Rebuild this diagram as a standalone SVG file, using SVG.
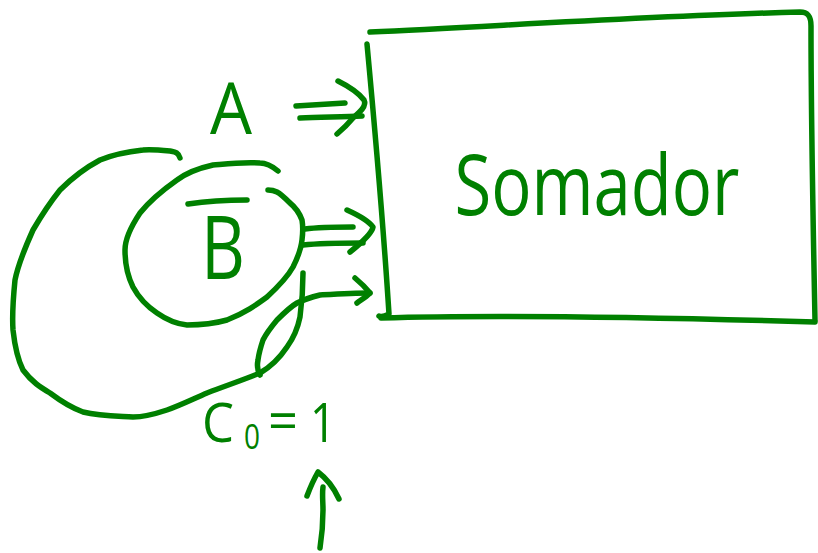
<svg xmlns="http://www.w3.org/2000/svg" width="818" height="553" viewBox="0 0 818 553">
<style>
.s{fill:none;stroke:#008000;stroke-width:5.5;stroke-linecap:round;stroke-linejoin:round}
.t{fill:#008000;font-family:"Open Sans","Liberation Sans",sans-serif}
</style>
<rect width="818" height="553" fill="#ffffff"/>
<g id="somador">
<path class="s" d="M370,32 C500,26 650,16 800,12 C808,12 811,16 811,26 C811,120 813,220 815,320"/>
<path class="s" d="M367,44 C375,130 383,220 389,314 C385,316 381,317 379,316"/>
<path class="s" d="M381,318 C520,314 680,318 815,322"/>
<text class="t" x="597" y="215" font-size="84" text-anchor="middle" textLength="285" lengthAdjust="spacingAndGlyphs">Somador</text>
</g>
<g id="A">
<text class="t" x="231" y="134" font-size="72" text-anchor="middle" textLength="42" lengthAdjust="spacingAndGlyphs">A</text>
</g>
<g id="B">
<path class="s" d="M278,171 C272,166 266,163 260,163 C240,162 225,164 213,165 C195,169 185,174 177,180 C160,192 148,203 140,213 C130,228 125,240 125,250 C125,266 128,277 133,287 C140,300 148,307 157,313 C167,320 177,324 187,325 C200,325 213,324 227,320 C245,313 256,305 267,297 C280,285 288,276 293,267 C298,257 301,250 302,240 C303,232 303,226 302,220 C299,212 295,207 290,203 C285,198 281,194 277,192 C273,190 270,190 268,190"/>
<path class="s" d="M188,204 C208,201 228,200 247,200"/>
<text class="t" x="223" y="279" font-size="88" text-anchor="middle" textLength="44" lengthAdjust="spacingAndGlyphs">B</text>
</g>
<g id="C0">
<text class="t" font-size="54"><tspan x="202" y="442" textLength="32" lengthAdjust="spacingAndGlyphs">C</tspan><tspan x="244" y="449" font-size="34" textLength="16" lengthAdjust="spacingAndGlyphs">0</tspan><tspan x="268" y="440" textLength="30" lengthAdjust="spacingAndGlyphs">=</tspan><tspan x="310" y="442" textLength="26" lengthAdjust="spacingAndGlyphs">1</tspan></text>
</g>
<g id="connectors">
<path class="s" d="M296,106 C312,105 328,104 345,103"/>
<path class="s" d="M300,118 C320,117 342,117 362,116"/>
<path class="s" d="M338,81 C348,86 358,92 364,100 C367,106 360,112 353,118 C348,124 343,129 337,134"/>
<path class="s" d="M305,229 C320,227 337,227 353,227"/>
<path class="s" d="M303,245 C322,243 342,243 363,243"/>
<path class="s" d="M347,210 C358,215 368,220 373,227 C372,234 360,244 350,252"/>
<path class="s" d="M180,158 C178,152 175,152 170,151 C160,150 150,149 143,150 C125,152 112,155 100,160 C85,168 72,178 60,190 C48,205 40,218 33,230 C24,250 18,265 15,280 C13,300 12,315 13,330 C15,348 18,360 23,370 C32,382 40,387 50,393 C62,402 72,408 83,412 C100,416 117,416 133,417 C145,417 155,414 167,410 C181,405 193,399 207,393 C225,386 243,380 260,373 C272,366 281,356 287,347 C295,336 298,327 300,317 C302,302 303,288 303,273"/>
<path class="s" d="M260,375 C257,370 257,365 258,360 C259,352 261,346 263,340 C267,332 272,326 277,320 C284,313 290,307 297,303 C305,299 312,297 320,295 C337,294 353,293 370,293"/>
<path class="s" d="M355,278 C361,283 366,288 370,293 C366,297 361,300 357,303"/>
<path class="s" d="M320,548 C322,535 323,522 323,510 C323,502 322,495 323,487"/>
<path class="s" d="M307,496 C310,488 314,479 318,472 C326,478 334,488 339,499"/>
</g>
</svg>
